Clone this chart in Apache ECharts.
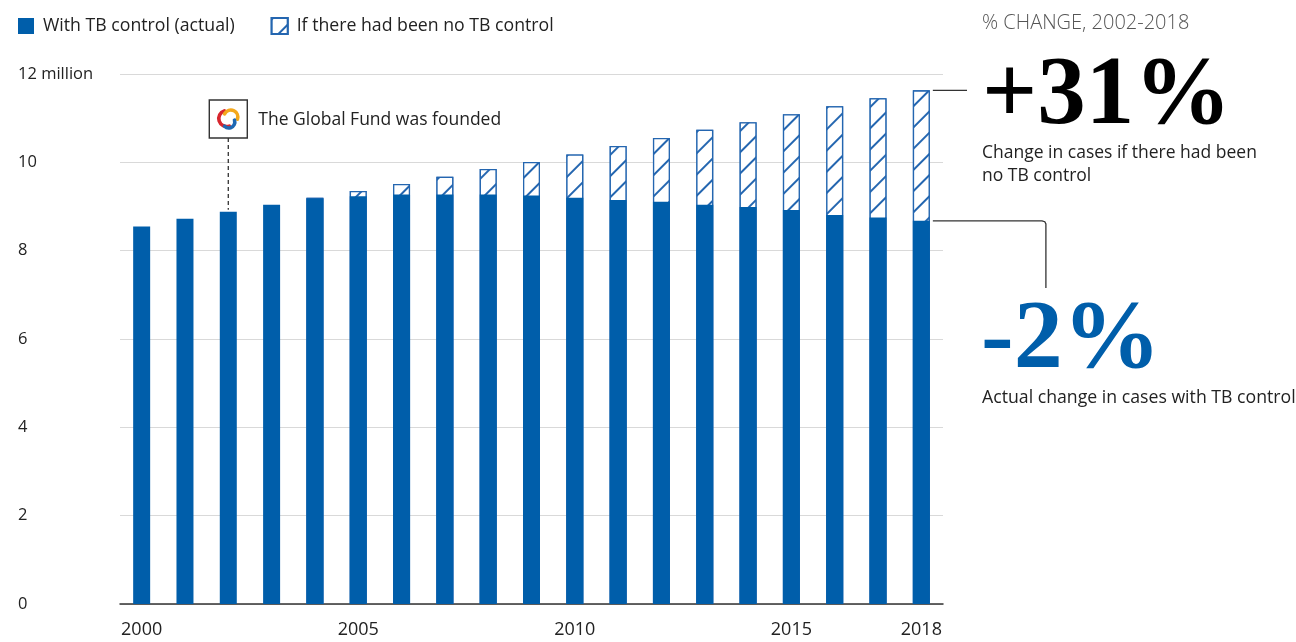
<!DOCTYPE html>
<html><head><meta charset="utf-8">
<script src="https://cdn.jsdelivr.net/npm/echarts@6/dist/echarts.min.js"></script>
<style>html,body{margin:0;padding:0;background:#fff}#c{width:1296px;height:642px}</style>
</head><body><div id="c"></div>
<script>
const years = ['2000','2001','2002','2003','2004','2005','2006','2007','2008','2009','2010','2011','2012','2013','2014','2015','2016','2017','2018'];
const actualCases = [8.55, 8.72, 8.88, 9.04, 9.18, 9.23, 9.27, 9.27, 9.27, 9.25, 9.20, 9.15, 9.11, 9.04, 8.99, 8.92, 8.81, 8.75, 8.675];
const noControlCases = [null, null, null, null, 9.20, 9.35, 9.51, 9.675, 9.85, 10.01, 10.18, 10.37, 10.55, 10.74, 10.91, 11.09, 11.27, 11.45, 11.63];
const labelYears = ['2000','2005','2010','2015','2018'];
const yMin = 0, yMax = 12, yStep = 2;
const foundedYear = '2002';
const seriesNames = ['With TB control (actual)', 'If there had been no TB control'];

const FONT = '"Open Sans", Lato, sans-serif';
const FS = 17.5;
const BLUE = '#005eaa';
const HATCH = '#2466b0';
const SERIF = '"Liberation Serif", "DejaVu Serif", serif';
const chart = echarts.init(document.getElementById('c'), null, {renderer: 'canvas'});

chart.setOption({
  animation: false,
  textStyle: {fontFamily: FONT},
  legend: {
    left: 18, top: 17, padding: 0, itemWidth: 16, itemHeight: 16, itemGap: 36,
    icon: 'rect', selectedMode: false,
    data: [seriesNames[0], seriesNames[1]],
    textStyle: {fontSize: 17.7, color: '#222', fontFamily: FONT, padding: [2, 0, 0, 4]}
  },
  grid: {left: 120, right: 353, top: 74, bottom: 38, outerBoundsMode: 'none'},
  xAxis: {
    type: 'category', data: years,
    axisTick: {show: false},
    axisLine: {lineStyle: {color: '#333', width: 1.5}},
    axisLabel: {
      color: '#222', fontSize: 18, margin: 17,
      interval: (i, v) => labelYears.includes(v)
    }
  },
  yAxis: {
    type: 'value', min: yMin, max: yMax, interval: yStep,
    axisLine: {show: false}, axisTick: {show: false},
    splitLine: {lineStyle: {color: '#d9d9d9', width: 1.2}},
    axisLabel: {
      color: '#222', fontSize: 16.5, align: 'left', margin: 102,
      formatter: v => v === yMax ? v + ' million' : String(v)
    }
  },
  series: [
    {
      name: seriesNames[1], type: 'bar', data: noControlCases, barWidth: 17, barGap: '-100%',
      itemStyle: {
        color: '#ffffff', borderColor: HATCH, borderWidth: 1.3,
        decal: {symbol: 'rect', symbolSize: 1, color: HATCH, backgroundColor: '#ffffff',
                dashArrayX: [1, 0], dashArrayY: [1.3, 12.8], rotation: -Math.PI / 4}
      },
      emphasis: {disabled: true}, silent: true
    },
    {
      name: seriesNames[0], type: 'bar', data: actualCases, barWidth: 17, barGap: '-100%',
      itemStyle: {color: BLUE},
      emphasis: {disabled: true}, silent: true
    }
  ]
});

// annotations anchored to data via the axes
const last = years.length - 1;
const pTot = chart.convertToPixel({xAxisIndex: 0, yAxisIndex: 0}, [years[last], noControlCases[last]]);
const pAct = chart.convertToPixel({xAxisIndex: 0, yAxisIndex: 0}, [years[last], actualCases[last]]);
const fi = years.indexOf(foundedYear);
const pFound = chart.convertToPixel({xAxisIndex: 0, yAxisIndex: 0}, [foundedYear, actualCases[fi]]);
const barRight = pTot[0] + 8.5;
const boxSize = 38, boxTop = 100;
const cx = pFound[0], cy = boxTop + boxSize / 2;

chart.setOption({
  graphic: [
    // Global Fund annotation
    {type: 'line', shape: {x1: cx, y1: boxTop + boxSize, x2: cx, y2: pFound[1] - 2},
     style: {stroke: '#333', lineWidth: 1.3, lineDash: [4, 3]}},
    {type: 'rect', shape: {x: cx - boxSize / 2, y: boxTop, width: boxSize, height: boxSize},
     style: {fill: '#fff', stroke: '#333', lineWidth: 1.4}},
    {type: 'arc', shape: {cx: cx - 1.5, cy: cy - 0.5, r: 8, startAngle: Math.PI * 0.4, endAngle: Math.PI * 1.4, clockwise: true},
     style: {stroke: '#d7262e', lineWidth: 3.6, fill: null, lineCap: 'round'}},
    {type: 'arc', shape: {cx: cx + 2.5, cy: cy - 2, r: 7, startAngle: Math.PI * 1.15, endAngle: Math.PI * 2.1, clockwise: true},
     style: {stroke: '#f4a81d', lineWidth: 3.6, fill: null, lineCap: 'round'}},
    {type: 'arc', shape: {cx: cx + 0.5, cy: cy + 3, r: 6, startAngle: Math.PI * 1.9, endAngle: Math.PI * 2.75, clockwise: true},
     style: {stroke: '#1f68b3', lineWidth: 3.6, fill: null, lineCap: 'round'}},
    {type: 'text', left: cx + 30, top: 111,
     style: {text: 'The Global Fund was founded', fill: '#222', font: FS + 'px ' + FONT}},

    // right-hand panel
    {type: 'text', left: 982, top: 13,
     style: {text: '% CHANGE, 2002-2018', fill: '#555', font: '300 20px ' + FONT}},
    {type: 'line', shape: {x1: barRight + 3, y1: pTot[1], x2: 967, y2: pTot[1]},
     style: {stroke: '#333', lineWidth: 1.3}},
    {type: 'text', left: 982, top: 49,
     style: {text: '+31%', fill: '#000', font: '900 97px ' + SERIF}},
    {type: 'text', left: 982, top: 142,
     style: {text: 'Change in cases if there had been\nno TB control', fill: '#222', font: FS + 'px ' + FONT, lineHeight: 22.5}},
    {type: 'polyline', shape: {points: [[barRight + 3, pAct[1]], [1042, pAct[1]], [1044.8, pAct[1] + 0.9], [1045.9, pAct[1] + 3], [1045.9, 288]]},
     style: {stroke: '#333', lineWidth: 1.3, fill: null}},
    {type: 'text', left: 981, top: 293,
     style: {text: '-2%', fill: BLUE, font: '900 98px ' + SERIF}},
    {type: 'text', left: 982, top: 389,
     style: {text: 'Actual change in cases with TB control', fill: '#222', font: '17.7px ' + FONT}}
  ]
});
</script></body></html>
